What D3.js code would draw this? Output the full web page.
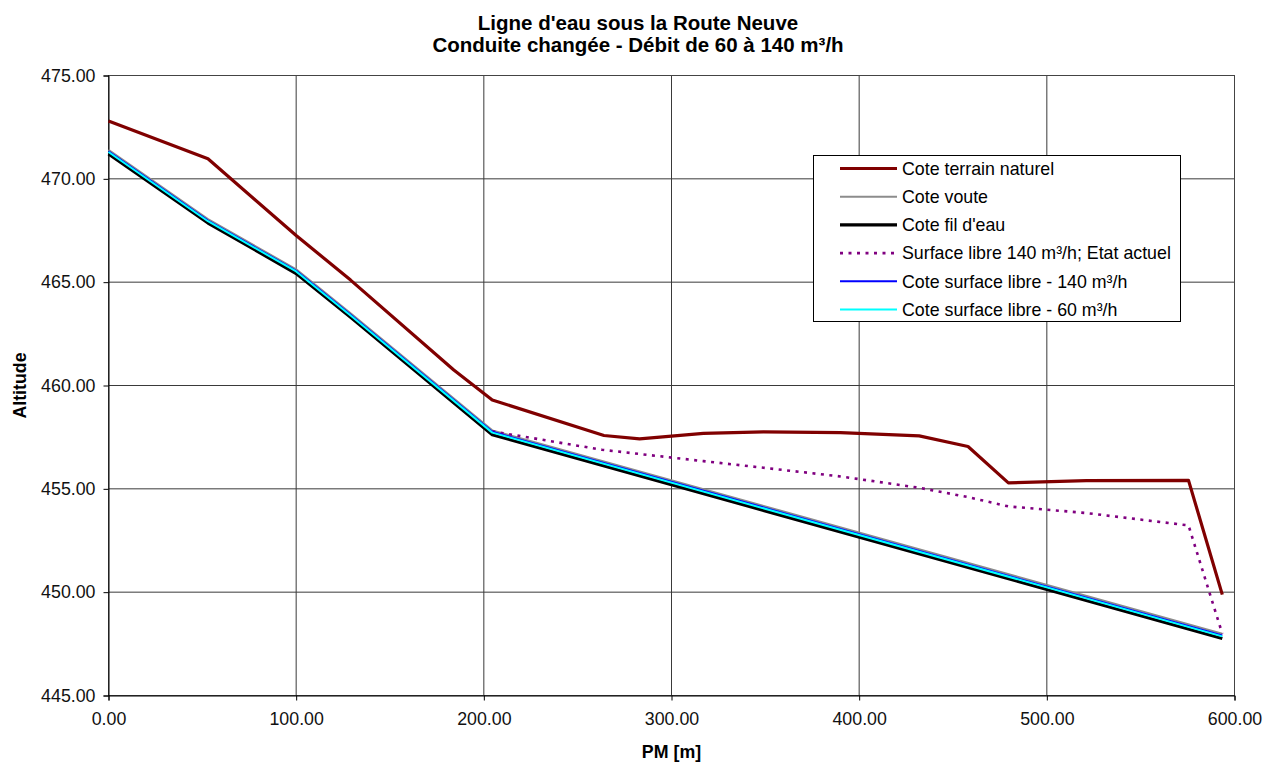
<!DOCTYPE html>
<html>
<head>
<meta charset="utf-8">
<script src="https://cdn.jsdelivr.net/npm/d3@7"></script>
<style>
  html, body { margin: 0; padding: 0; background: #fff; }
  svg { display: block; font-family: "Liberation Sans", Arial, sans-serif; }
</style>
</head>
<body>
<svg id="chart" width="1265" height="767"></svg>
<script>
// ---- Data ----
const titleLines = ["Ligne d'eau sous la Route Neuve", "Conduite changée - Débit de 60 à 140 m³/h"];
const xAxisTitle = "PM [m]";
const yAxisTitle = "Altitude";
const xTicks = [0, 100, 200, 300, 400, 500, 600];
const yTicks = [445, 450, 455, 460, 465, 470, 475];

const pmTerrain   = [0, 53, 100, 129, 184, 204.5, 264, 283, 317, 349, 390, 432, 458, 479.5, 521, 575.5, 593.5];
const coteTerrain = [472.80, 470.97, 467.26, 465.10, 460.75, 459.30, 457.58, 457.42, 457.68, 457.76, 457.72, 457.56, 457.05, 455.29, 455.40, 455.41, 449.88];

const pmConduite  = [0, 53, 100, 129, 204.5, 593.5];
const coteVoute   = [471.40, 468.05, 465.62, 463.49, 457.83, 447.99];
const coteFilEau  = [471.20, 467.86, 465.42, 463.30, 457.62, 447.76];
const cote140     = [471.33, 467.98, 465.55, 463.42, 457.76, 447.90];
const cote60      = [471.30, 467.95, 465.52, 463.39, 457.72, 447.86];

const pmActuel      = [204.5, 263, 317, 349, 390, 432, 458, 479.5, 521, 575.5, 593.5];
const surfaceActuel = [457.78, 456.89, 456.34, 456.02, 455.60, 455.05, 454.60, 454.15, 453.83, 453.23, 447.99];

const seriesNames = [
  "Cote terrain naturel",
  "Cote voute",
  "Cote fil d'eau",
  "Surface libre 140 m³/h; Etat actuel",
  "Cote surface libre - 140 m³/h",
  "Cote surface libre - 60 m³/h"
];

// ---- Build series ----
const zip = (xs, ys) => xs.map((x, i) => ({x: x, y: ys[i]}));
const series = [
  {name: seriesNames[0], data: zip(pmTerrain, coteTerrain), color: "#800000", width: 3.2, dash: null},
  {name: seriesNames[1], data: zip(pmConduite, coteVoute), color: "#8c8c8c", width: 2, dash: null},
  {name: seriesNames[2], data: zip(pmConduite, coteFilEau), color: "#000000", width: 3.2, dash: null},
  {name: seriesNames[3], data: zip(pmActuel, surfaceActuel), color: "#800080", width: 2.6, dash: "3,5.5"},
  {name: seriesNames[4], data: zip(pmConduite, cote140), color: "#0000ff", width: 2, dash: null},
  {name: seriesNames[5], data: zip(pmConduite, cote60), color: "#00ffff", width: 2, dash: null}
];

const svg = d3.select("#chart");
svg.append("rect").attr("width", 1265).attr("height", 767).attr("fill", "#fff");

const x = d3.scaleLinear().domain([0, 600]).range([108.5, 1234.5]);
const y = d3.scaleLinear().domain([445, 475]).range([695.5, 75.5]);

// Grid
const grid = svg.append("g");
grid.selectAll("line.v").data(xTicks).enter().append("line")
  .attr("x1", d => x(d)).attr("x2", d => x(d))
  .attr("y1", y(475)).attr("y2", y(445))
  .attr("stroke", "#3a3a3a").attr("stroke-width", 1);
grid.selectAll("line.h").data(yTicks).enter().append("line")
  .attr("x1", x(0)).attr("x2", x(600))
  .attr("y1", d => y(d)).attr("y2", d => y(d))
  .attr("stroke", "#3a3a3a").attr("stroke-width", 1);
// plot border
svg.append("rect").attr("x", x(0)).attr("y", y(475))
  .attr("width", x(600) - x(0)).attr("height", y(445) - y(475))
  .attr("fill", "none").attr("stroke", "#444").attr("stroke-width", 1);

// Axes
const fmt = d3.format(".2f");
const xAxis = svg.append("g").attr("transform", `translate(0,${y(445)})`)
  .call(d3.axisBottom(x).tickValues(xTicks).tickFormat(fmt).tickSize(5).tickPadding(12));
const yAxis = svg.append("g").attr("transform", `translate(${x(0)},0)`)
  .call(d3.axisLeft(y).tickValues(yTicks).tickFormat(fmt).tickSize(5).tickPadding(8));
[xAxis, yAxis].forEach(a => {
  a.select(".domain").attr("stroke", "#000").attr("stroke-width", 1);
  a.selectAll(".tick line").attr("stroke", "#000");
  a.selectAll(".tick text").attr("font-size", "17.8px").attr("fill", "#111")
    .attr("font-family", "'Liberation Sans', Arial, sans-serif");
});

// Lines
const line = d3.line().x(d => x(d.x)).y(d => y(d.y));
const lines = svg.append("g");
series.forEach(s => {
  lines.append("path").datum(s.data)
    .attr("d", line)
    .attr("fill", "none")
    .attr("stroke", s.color)
    .attr("stroke-width", s.width)
    .attr("stroke-linejoin", "round")
    .attr("stroke-dasharray", s.dash);
});

// Title
const title = svg.append("text").attr("text-anchor", "middle")
  .attr("font-weight", "bold").attr("font-size", "20.5px").attr("fill", "#000");
titleLines.forEach((t, i) => {
  title.append("tspan").attr("x", 638).attr("y", 30 + i * 22).text(t);
});

// Axis titles
svg.append("text").attr("x", (x(0) + x(600)) / 2).attr("y", 758)
  .attr("text-anchor", "middle").attr("font-weight", "bold").attr("font-size", "17.8px")
  .text(xAxisTitle);
svg.append("text").attr("transform", `translate(26,${(y(445) + y(475)) / 2}) rotate(-90)`)
  .attr("text-anchor", "middle").attr("font-weight", "bold").attr("font-size", "17.8px")
  .text(yAxisTitle);

// Legend
const lg = svg.append("g");
lg.append("rect").attr("x", 813.5).attr("y", 155.5).attr("width", 367).attr("height", 166)
  .attr("fill", "#fff").attr("stroke", "#000").attr("stroke-width", 1);
series.forEach((s, i) => {
  const cy = 168.5 + i * 28.2;
  lg.append("line").attr("x1", 840).attr("x2", 897).attr("y1", cy).attr("y2", cy)
    .attr("stroke", s.color).attr("stroke-width", s.width).attr("stroke-dasharray", s.dash);
  lg.append("text").attr("x", 902).attr("y", cy).attr("dy", "0.35em")
    .attr("font-size", "17.8px").attr("fill", "#000").text(s.name);
});
</script>
</body>
</html>
